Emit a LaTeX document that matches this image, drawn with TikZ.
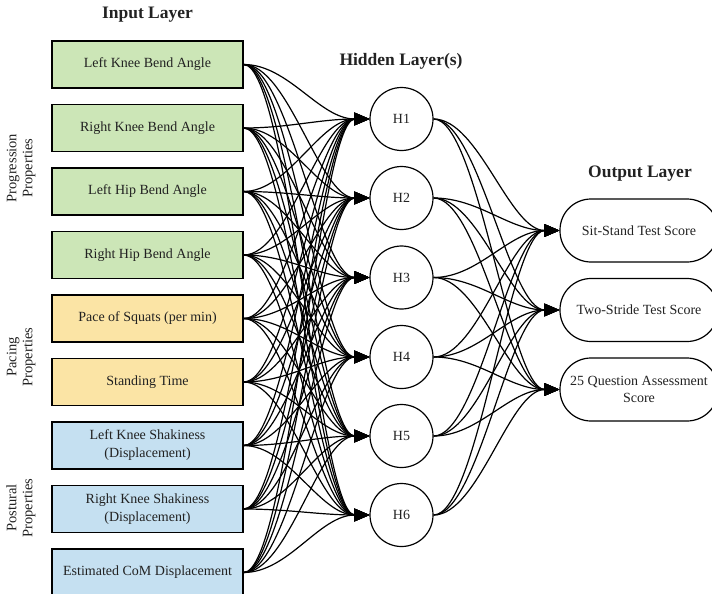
\documentclass[tikz,border=0pt]{standalone}
\usepackage{fontspec}
\setmainfont{Liberation Serif}
\usetikzlibrary{arrows.meta}
\definecolor{progfill}{HTML}{CCE6B7}
\definecolor{pacefill}{HTML}{FBE4A5}
\definecolor{postfill}{HTML}{C5E0F1}
\definecolor{inktext}{HTML}{222222}
\begin{document}
\begin{tikzpicture}[x=1pt,y=-1pt,
  every node/.style={text=inktext},
  inbox/.style={draw=black, line width=1.3pt, minimum width=191pt, minimum height=47pt,
    inner sep=0pt, align=center, font=\fontsize{14}{18}\selectfont},
  hnode/.style={draw=black, line width=1.2pt, circle, minimum size=63pt, inner sep=0pt,
    fill=white, font=\fontsize{14}{18}\selectfont},
  outbox/.style={draw=black, line width=1.2pt, rounded corners=31pt, minimum width=158pt,
    minimum height=63pt, inner sep=0pt, fill=white, align=center,
    font=\fontsize{14}{17}\selectfont},
  layertitle/.style={font=\bfseries\fontsize{17.5}{21}\selectfont},
  grouplabel/.style={rotate=90, align=center, font=\fontsize{14.5}{16}\selectfont},
  link/.style={line width=1.2pt, -{Triangle[length=15pt,width=12.5pt]}}
]
\useasboundingbox (0,0) rectangle (712,594);

% layer titles
\node[layertitle] (tin)  at (147.5,15) {Input Layer};
\node[layertitle] (thid) at (401,61)   {Hidden Layer(s)};
\node[layertitle] (tout) at (640,174)  {Output Layer};

% input features
\node[inbox, fill=progfill] (in1) at (147.5,64.5)  {Left Knee Bend Angle};
\node[inbox, fill=progfill] (in2) at (147.5,128)   {Right Knee Bend Angle};
\node[inbox, fill=progfill] (in3) at (147.5,191.5) {Left Hip Bend Angle};
\node[inbox, fill=progfill] (in4) at (147.5,255)   {Right Hip Bend Angle};
\node[inbox, fill=pacefill] (in5) at (147.5,318.5) {Pace of Squats (per min)};
\node[inbox, fill=pacefill] (in6) at (147.5,382)   {Standing Time};
\node[inbox, fill=postfill] (in7) at (147.5,445.5) {Left Knee Shakiness\\(Displacement)};
\node[inbox, fill=postfill] (in8) at (147.5,509)   {Right Knee Shakiness\\(Displacement)};
\node[inbox, fill=postfill] (in9) at (147.5,572.5) {Estimated CoM Displacement};

% feature groups
\node[grouplabel] (gprog) at (21,168) {Progression\\Properties};
\node[grouplabel] (gpace) at (21,357) {Pacing\\Properties};
\node[grouplabel] (gpost) at (21,508) {Postural\\Properties};

% hidden units
\foreach \k/\yy in {1/119,2/198,3/277.5,4/357,5/436,6/515}
  \node[hnode] (h\k) at (401.5,\yy) {H\k};

% outputs
\node[outbox] (out1) at (639,230.5) {Sit-Stand Test Score};
\node[outbox] (out2) at (639,310)   {Two-Stride Test Score};
\node[outbox] (out3) at (639,389.5) {25 Question Assessment\\Score};

% input -> hidden connections
\foreach \i in {1,...,9}
  \foreach \j in {1,...,6}
    \draw[link] (in\i.east) .. controls +(45,0) and +(-50,0) .. (h\j.west);

% hidden -> output connections
\foreach \j in {1,...,6}
  \foreach \o in {1,2,3}
    \draw[link] (h\j.east) .. controls +(45,0) and +(-50,0) .. (out\o.west);
\end{tikzpicture}
\end{document}
